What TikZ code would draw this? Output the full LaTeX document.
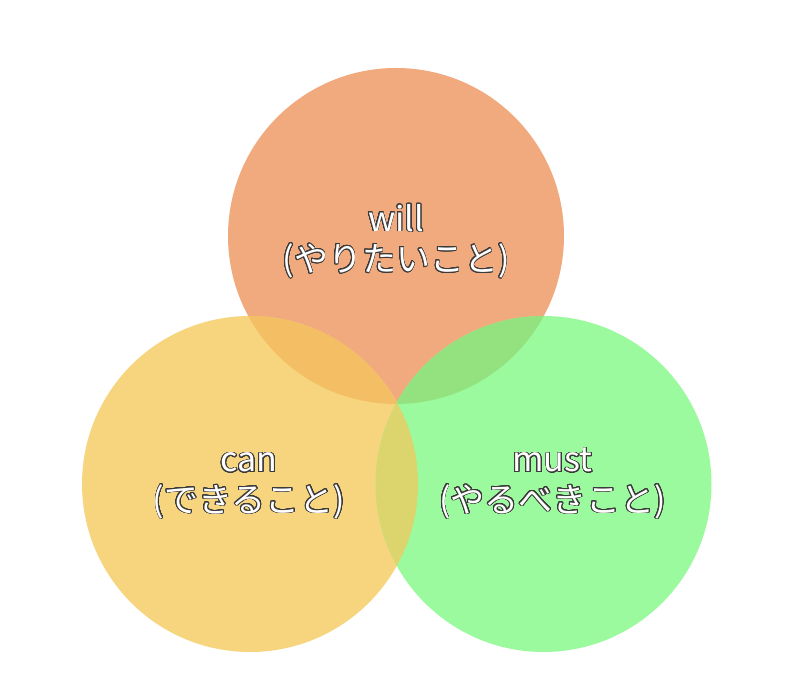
\documentclass[tikz,border=0pt]{standalone}
\usepackage{fontspec}
\setmainfont{Noto Sans CJK JP}
\usepackage{contour}
\contourlength{0.75pt}
\contournumber{32}
\definecolor{cwill}{HTML}{F1AA7E}
\definecolor{ccan}{HTML}{F7D57E}
\definecolor{cmust}{HTML}{9CFA9E}
\definecolor{cwc}{HTML}{F4BF64}
\definecolor{cwm}{HTML}{93E27F}
\definecolor{ccm}{HTML}{DCD46C}
\definecolor{outl}{HTML}{3A3A3A}
\tikzset{
  venn/.style={circle, minimum size=336pt, inner sep=0pt, draw=none},
  lbl/.style={anchor=center, inner sep=0pt, align=center, text=white, font=\fontsize{34}{38}\selectfont},
}
\newcommand{\olt}[1]{\strut\contour{outl}{#1}}
\begin{document}
\begin{tikzpicture}[x=1pt,y=1pt]
\useasboundingbox (0,0) rectangle (788,680);
\fill[white] (0,0) rectangle (788,680);
\node[venn, fill=cwill] (will) at (396,444) {};
\node[venn, fill=ccan] (can) at (250,196) {};
\node[venn, fill=cmust] (must) at (543.5,196) {};
\begin{scope}
  \clip (396,444) circle (168);
  \fill[cwc] (250,196) circle (168);
  \fill[cwm] (543.5,196) circle (168);
\end{scope}
\begin{scope}
  \clip (250,196) circle (168);
  \fill[ccm] (543.5,196) circle (168);
\end{scope}
\node[lbl] (twill) at (396,436.6) {\olt{will}\\\olt{(やりたいこと)}};
\node[lbl] (tcan) at (249,195.6) {\olt{can}\\\olt{(できること)}};
\node[lbl] (tmust) at (552.5,195.6) {\olt{must}\\\olt{(やるべきこと)}};
\end{tikzpicture}
\end{document}
